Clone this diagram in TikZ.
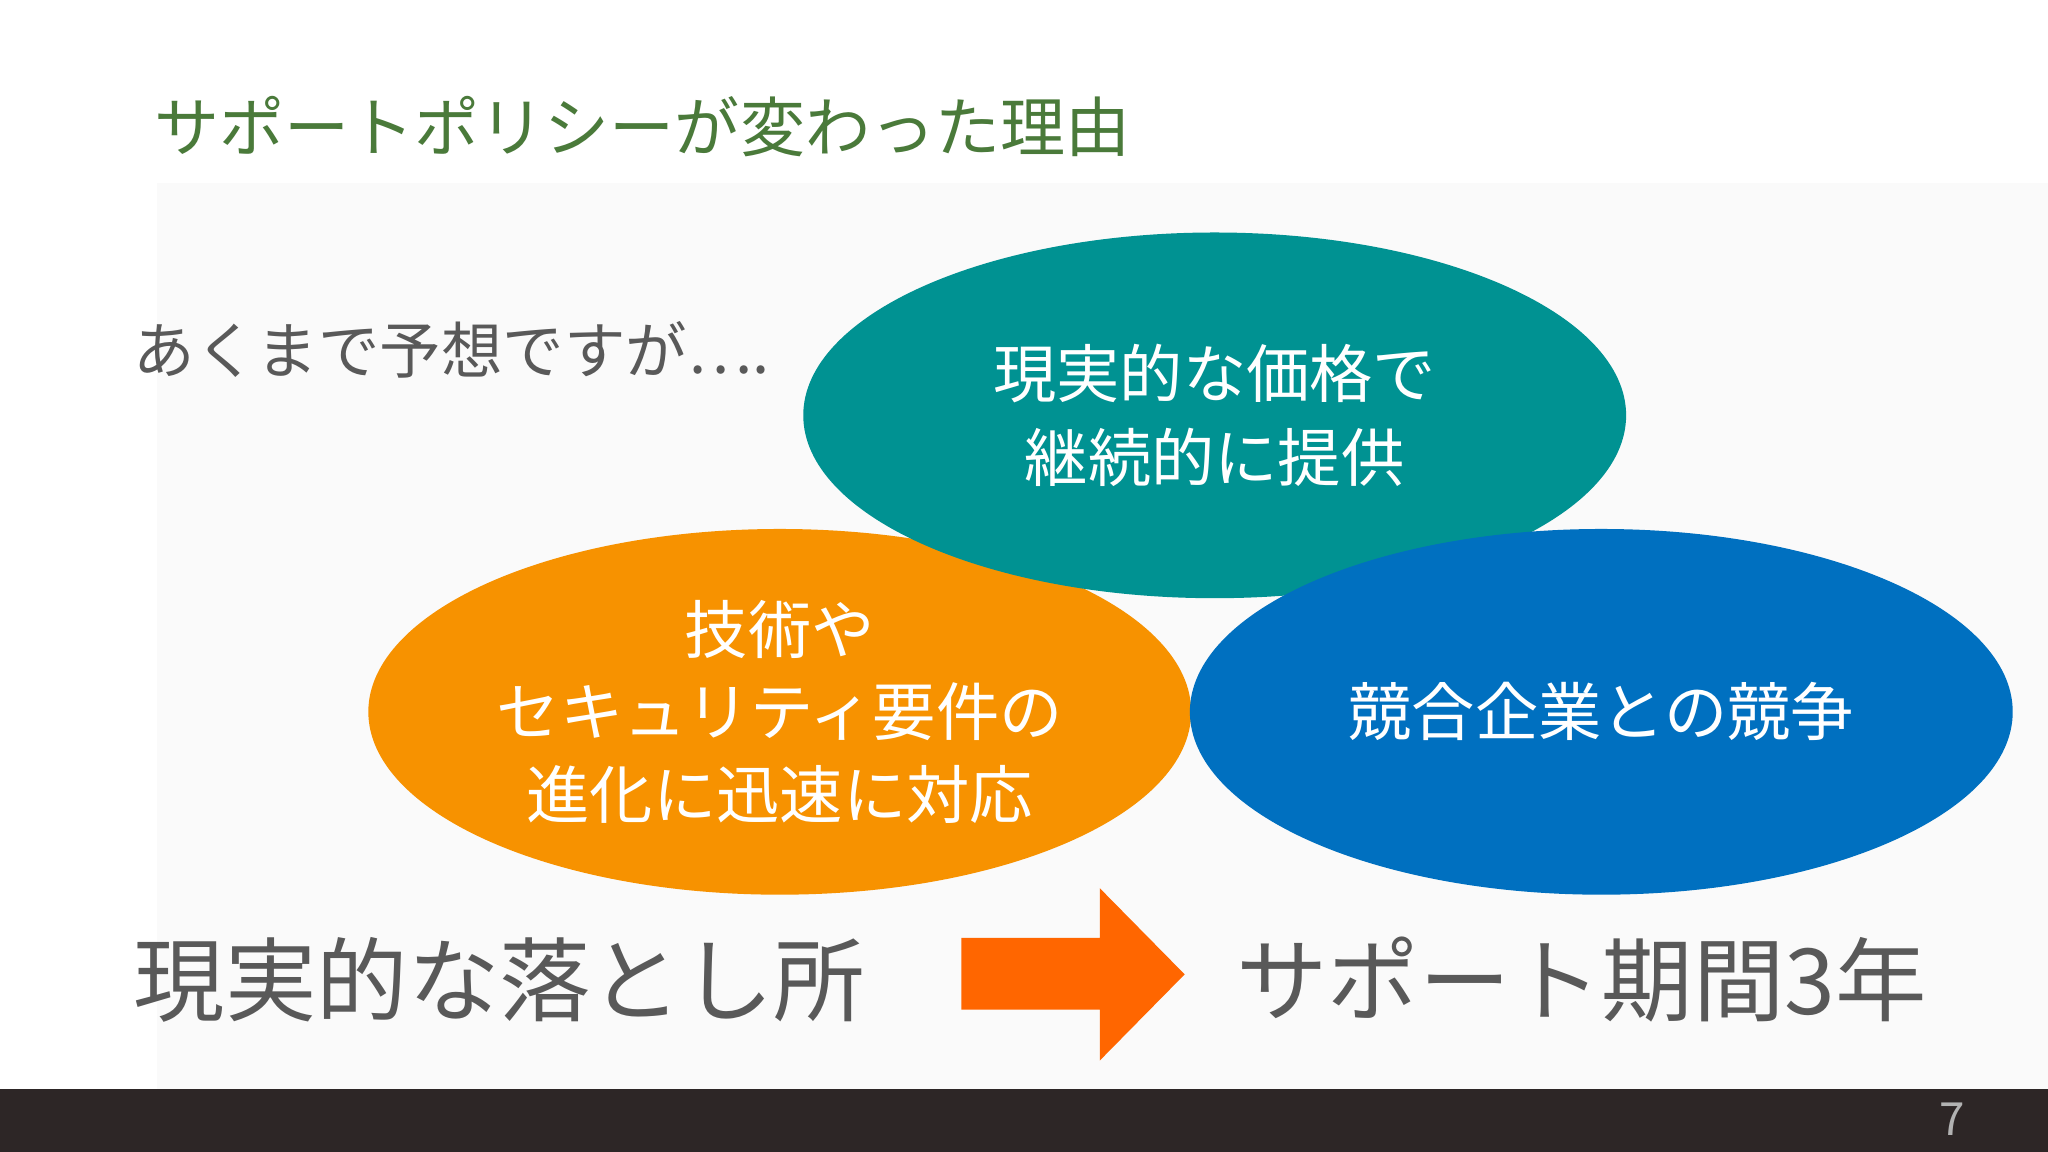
\documentclass[tikz,border=0pt]{standalone}
\usepackage{fontspec}
\setmainfont{Noto Sans CJK JP}
\setsansfont{Noto Sans CJK JP}
\definecolor{ttl}{RGB}{74,122,58}
\definecolor{corg}{RGB}{247,146,0}
\definecolor{cteal}{RGB}{0,146,146}
\definecolor{cblue}{RGB}{0,112,192}
\definecolor{carrow}{RGB}{255,102,0}
\definecolor{cbar}{RGB}{45,38,38}
\definecolor{ctxt}{RGB}{89,89,89}
\begin{document}
\begin{tikzpicture}[x=0.01306cm,y=-0.01306cm,
  ell/.style={x radius=315,y radius=140},
  intext/.style={text=white,align=center,font=\fontsize{18}{24}\selectfont},
  big/.style={text=ctxt,font=\fontsize{26}{30}\selectfont,anchor=west,inner sep=0}]
\useasboundingbox (0,0) rectangle (1568,882);
\fill[white] (0,0) rectangle (1568,882);
\fill[black!2] (120,140) rectangle (1568,834);
\node[anchor=west,inner sep=0,text=ttl,font=\fontsize{18.5}{22}\selectfont] (title) at (118,97) {サポートポリシーが変わった理由};
\node[anchor=west,inner sep=0,text=ctxt,font=\fontsize{17.5}{22}\selectfont] (pre) at (102,268) {あくまで予想ですが….};
\fill[corg] (597,545) ellipse [ell];
\fill[cteal] (930,318) ellipse [ell];
\fill[cblue] (1226,545) ellipse [ell];
\node[intext] (t1) at (930,318) {現実的な価格で\\継続的に提供};
\node[intext,font=\fontsize{18}{23.5}\selectfont] (t2) at (597,545) {技術や\\セキュリティ要件の\\進化に迅速に対応};
\node[intext] (t3) at (1226,545) {競合企業との競争};
\node[big] (l) at (102,750) {現実的な落とし所};
\node[big] (r) at (946,750) {サポート期間3年};
\fill[carrow] (736,718) -- (842,718) -- (842,680) -- (907,746) -- (842,812) -- (842,773) -- (736,773) -- cycle;
\fill[cbar] (0,834) rectangle (1568,882);
\node[text=gray!60,font=\fontsize{13}{15}\selectfont] (pg) at (1495,857) {7};
\end{tikzpicture}
\end{document}
